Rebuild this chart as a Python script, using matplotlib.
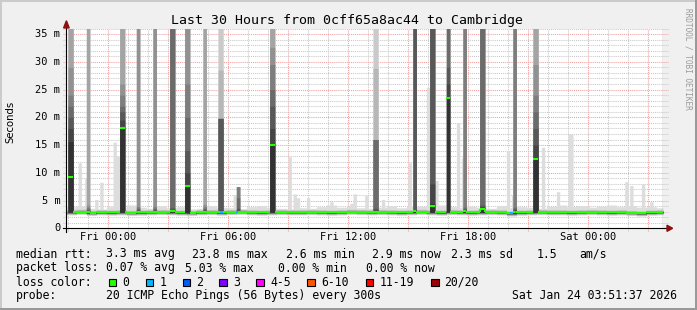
import numpy as np
import matplotlib
matplotlib.use("Agg")
import matplotlib.pyplot as plt
from matplotlib.collections import LineCollection
from matplotlib.patches import Rectangle, Polygon

W, H = 697, 310
MONO = "DejaVu Sans Mono"

title = "Last 30 Hours from 0cff65a8ac44 to Cambridge"

# hours relative to Fri 00:00, one sample every 5 minutes
t_first = -2.08
t_last = 27.75

x_ticks = [0, 6, 12, 18, 24]
x_labels = ["Fri 00:00", "Fri 06:00", "Fri 12:00", "Fri 18:00", "Sat 00:00"]
y_ticks = [0, 5, 10, 15, 20, 25, 30, 35]
y_labels = ["0", "5 m", "10 m", "15 m", "20 m", "25 m", "30 m", "35 m"]

# half-hourly median rtt (ms) and slowest ping (ms) on quiet periods
base_median = [2.9, 3.0, 2.8, 2.9, 2.85, 2.9, 2.8, 2.85, 2.9, 2.95,
               2.9, 2.85, 2.8, 2.9, 2.95, 2.85, 2.95, 3.0, 2.9, 2.85,
               2.9, 2.95, 2.9, 2.9, 2.95, 2.9, 2.85, 2.9, 3.0, 2.95,
               2.9, 2.95, 2.9, 2.85, 2.9, 3.0, 2.9, 2.85, 2.95, 2.9,
               2.85, 2.9, 2.95, 2.9, 2.7, 2.85, 2.9, 2.95, 2.9, 2.9,
               2.85, 2.9, 2.95, 2.9, 2.85, 2.9, 2.8, 2.7, 2.85, 2.9]
base_max = [3.9, 4.1, 3.6, 3.5, 3.9, 3.7, 4.2, 3.8, 3.6, 4.0,
            3.7, 3.9, 3.5, 3.6, 4.0, 3.8, 3.7, 3.5, 3.9, 4.1,
            3.8, 3.6, 3.5, 3.7, 3.6, 3.9, 4.2, 3.8, 4.0, 3.7,
            3.6, 3.8, 4.1, 3.7, 3.9, 4.0, 3.8, 4.2, 3.9, 3.7,
            4.0, 3.8, 3.6, 4.1, 3.7, 3.9, 3.8, 3.6, 4.0, 4.2,
            3.9, 4.1, 3.8, 4.0, 4.2, 3.9, 4.1, 3.8, 3.9, 3.7]
# spread of the 20 sorted pings around the median on quiet periods
lo_spread = [-0.5, -0.4, -0.32, -0.25, -0.19, -0.14, -0.1, -0.06, -0.03, 0.0]
hi_spread = [0.03, 0.06, 0.09, 0.12, 0.16, 0.2, 0.26, 0.34, 0.45]

# bursts of slow pings: start hour, samples, median, pings 11..20
bar_hours = [-2.0, -1.1, 0.55, 1.4, 2.25, 3.05, 3.85, 4.75, 5.5, 6.4,
             8.05, 13.25, 15.25, 16.05, 16.9, 17.75, 18.55, 20.25, 21.25]
bar_steps = [3, 2, 3, 2, 2, 3, 3, 2, 3, 2, 3, 3, 2, 3, 2, 2, 3, 2, 3]
bar_median = [9.3, 3.0, 18.0, 3.0, 3.0, 3.1, 7.7, 3.0, 3.0, 3.0,
              15.0, 3.0, 3.1, 4.0, 23.5, 3.1, 3.5, 3.0, 12.5]
bar_upper = [
    [15.6, 18, 20, 22, 24, 29, 40, 40, 40, 40],
    [3.1, 3.2, 3.3, 3.5, 3.8, 4.2, 40, 40, 40, 40],
    [18, 19.5, 21, 22, 24, 26, 40, 40, 40, 40],
    [3.1, 3.2, 3.4, 3.6, 3.9, 40, 40, 40, 40, 40],
    [3.1, 3.2, 3.4, 3.6, 3.9, 40, 40, 40, 40, 40],
    [3.2, 3.4, 3.7, 40, 40, 40, 40, 40, 40, 40],
    [7.7, 10, 14, 20, 26, 40, 40, 40, 40, 40],
    [3.1, 3.2, 3.4, 3.6, 3.9, 4.3, 40, 40, 40, 40],
    [3.1, 3.3, 19.8, 19.8, 19.8, 19.8, 19.8, 28.5, 40, 40],
    [3.1, 3.3, 3.6, 5.5, 7.5, 7.5, 7.5, 7.5, 7.5, 7.5],
    [15, 18, 22, 25, 29.5, 32.6, 40, 40, 40, 40],
    [3.1, 3.3, 3.6, 16, 16, 16, 16, 28.8, 40, 40],
    [3.2, 3.4, 40, 40, 40, 40, 40, 40, 40, 40],
    [4.5, 8, 40, 40, 40, 40, 40, 40, 40, 40],
    [23.5, 26, 29, 40, 40, 40, 40, 40, 40, 40],
    [3.1, 3.3, 3.5, 3.8, 40, 40, 40, 40, 40, 40],
    [3.6, 3.9, 4.2, 40, 40, 40, 40, 40, 40, 40],
    [3.1, 3.3, 3.5, 3.8, 40, 40, 40, 40, 40, 40],
    [12.5, 15, 18, 21, 24, 29.5, 40, 40, 40, 40],
]

# single slow pings (max of the 20), two samples each
light_hours = [-1.5, -1.2, -0.65, -0.45, 0.25, 0.4, 6.25, 9.0, 9.25, 9.4,
               9.9, 11.1, 12.05, 12.25, 12.85, 13.7, 15.0, 15.9, 16.3, 17.45,
               17.65, 19.95, 20.15, 21.65, 22.4, 23.0, 23.1, 23.95, 25.8, 26.05,
               26.65, 27.05]
light_tops = [11.8, 9.0, 5.2, 8.3, 15.5, 13.0, 6.0, 12.9, 6.2, 5.5,
              5.5, 4.8, 4.5, 6.2, 5.9, 5.2, 11.8, 25.4, 8.6, 19.0,
              12.7, 14.0, 6.0, 14.6, 6.6, 17.0, 17.0, 4.0, 8.4, 7.7,
              8.0, 4.8]

# samples with one lost ping
loss_hours = [5.55, 5.65, 6.45, 20.05, 20.15, 20.3]

legend_colors = ["#26ff00", "#00b8ff", "#0059ff", "#7e00ff",
                 "#ff00ff", "#ff5500", "#ff0000", "#a10000"]
legend_names = ["0", "1", "2", "3", "4-5", "6-10", "11-19", "20/20"]

n = int(round((t_last - t_first) * 12))
edges = t_first + np.arange(n + 1) / 12.0


def step_of(h):
    return int(round((h - t_first) * 12))


half = np.minimum(np.arange(n) // 6, len(base_median) - 1)
median = np.array(base_median)[half]
pings = np.zeros((n, 20))
pings[:, :10] = median[:, None] + np.array(lo_spread)
pings[:, 10:19] = median[:, None] + np.array(hi_spread)
pings[:, 19] = np.maximum(np.array(base_max)[half], pings[:, 18])

for h, top in zip(light_hours, light_tops):
    k = step_of(h)
    for j in (k, k + 1):
        if j < n:
            pings[j, 19] = max(pings[j, 19], top)

for h, cnt, med, up in zip(bar_hours, bar_steps, bar_median, bar_upper):
    k0 = step_of(h)
    for k in range(k0, min(k0 + cnt, n)):
        pings[k, 10:] = up
        median[k] = med

loss = np.zeros(n, dtype=bool)
for h in loss_hours:
    loss[step_of(h)] = True

fig = plt.figure(figsize=(W / 100, H / 100), dpi=100, facecolor="#f0f0f0")
y0_px, top_px = 228.3, 28.5
left_px, right_px = 66.4, 663.0
ax = fig.add_axes([left_px / W, (H - y0_px) / H,
                   (right_px - left_px) / W, (y0_px - top_px) / H])
ax.set_facecolor("white")
ax.set_xlim(t_first, t_last)
ax.set_ylim(0, 36)
for s in ax.spines.values():
    s.set_visible(False)
ax.set_xticks([])
ax.set_yticks([])

dot = (0, (1, 1))
# grid
for h in range(-2, 28):
    major = h % 3 == 0
    ax.plot([h, h], [-0.55, 36], color="#f2a0a0" if major else "#c8c8c8",
            lw=0.75, ls=dot, clip_on=False, zorder=1)
for v in range(1, 37):
    major = v % 5 == 0
    ax.plot([t_first - 0.15, t_last + 0.25], [v, v],
            color="#f2a0a0" if major else "#c8c8c8",
            lw=0.75, ls=dot, clip_on=False, zorder=1)

# smoke: layer i spans ping i .. ping 21-i
for i in range(10):
    g = int(190 / 10 * (9 - i)) + 50
    lo = np.append(pings[:, i], pings[-1, i])
    hi = np.append(pings[:, 19 - i], pings[-1, 19 - i])
    ax.fill_between(edges, lo, hi, step="post", color="#%02x%02x%02x" % (g, g, g),
                    lw=0, zorder=2)

# median line coloured by loss
segs, cols = [], []
for k in range(n):
    c = legend_colors[1] if loss[k] else legend_colors[0]
    segs.append([(edges[k], median[k]), (edges[k + 1], median[k])])
    cols.append(c)
    if k + 1 < n and abs(median[k + 1] - median[k]) < 1.0:
        segs.append([(edges[k + 1], median[k]), (edges[k + 1], median[k + 1])])
        cols.append(c)
ax.add_collection(LineCollection(segs, colors=cols, linewidths=1.5,
                                 capstyle="butt", zorder=3))

ax.plot([t_last - 0.02] * 2, [0, 36], color="#a0a0a0", lw=1, zorder=4)

# axes and arrows
ax.plot([t_first - 0.17, t_last + 0.3], [0, 0], color="black", lw=0.8,
        clip_on=False, zorder=5)
ax.plot([t_first, t_first], [-0.6, 36.3], color="black", lw=0.8,
        clip_on=False, zorder=5)
ax.add_patch(Polygon([[t_last + 0.2, -0.55], [t_last + 0.2, 0.55], [t_last + 0.48, 0]],
                     closed=True, color="#8b1111", clip_on=False, zorder=6))
ax.add_patch(Polygon([[t_first - 0.14, 36.1], [t_first + 0.14, 36.1], [t_first, 37.4]],
                     closed=True, color="#8b1111", clip_on=False, zorder=6))

for v, lab in zip(y_ticks, y_labels):
    ax.text(t_first - 0.3, v, lab, ha="right", va="center", fontsize=7.5,
            family=MONO, color="black")
for h, lab in zip(x_ticks, x_labels):
    ax.text(h, -1.6, lab, ha="center", va="center", fontsize=7.5,
            family=MONO, color="black")


def fx(x):
    return x / W


def fy(y):
    return 1 - y / H


fig.text(fx(347), fy(24), title, ha="center", va="baseline", fontsize=9.5, family=MONO)
fig.text(fx(10), fy(122), "Seconds", rotation=90, ha="center", va="center",
         fontsize=7.3, family="DejaVu Sans")
fig.text(fx(688), fy(59), "RRDTOOL / TOBI OETIKER", rotation=270, ha="center",
         va="center", fontsize=5.6, family=MONO, color="#9a9a9a")

legend_rows = [
    (257.5, [(15.5, "median rtt:"), (106.5, "3.3 ms avg"), (192.5, "23.8 ms max"),
             (286.5, "2.6 ms min"), (371.5, "2.9 ms now"), (451, "2.3 ms sd"),
             (536.5, "1.5"), (579.5, "am/s")]),
    (271.5, [(15.5, "packet loss:"), (106.5, "0.07 % avg"), (185.5, "5.03 % max"),
             (278.5, "0.00 % min"), (365.5, "0.00 % now")]),
    (285.5, [(15.5, "loss color:")]),
    (299.0, [(15.5, "probe:"), (106.5, "20 ICMP Echo Pings (56 Bytes) every 300s"),
             (512.5, "Sat Jan 24 03:51:37 2026")]),
]
for yb, items in legend_rows:
    for x, s in items:
        fig.text(fx(x), fy(yb), s, ha="left", va="baseline", fontsize=8.3, family=MONO)

box_x = [108.5, 145.5, 182.5, 219.0, 256.0, 307.0, 365.5, 431.0]
lab_x = [122.5, 160.0, 196.0, 233.5, 270.0, 321.0, 379.5, 444.5]
for bx, lx, c, name in zip(box_x, lab_x, legend_colors, legend_names):
    fig.add_artist(Rectangle((bx, H - 286.0), 7.5, 7.5, transform=None,
                             facecolor=c, edgecolor="black", lw=0.8))
    fig.text(fx(lx), fy(285.5), name, ha="left", va="baseline", fontsize=8.3, family=MONO)

# 3d frame
fig.add_artist(Rectangle((0, 0), 2, H, transform=None, color="#cbcbcb", lw=0))
fig.add_artist(Rectangle((0, H - 2), W, 2, transform=None, color="#cbcbcb", lw=0))
fig.add_artist(Rectangle((W - 2, 0), 2, H, transform=None, color="#999999", lw=0))
fig.add_artist(Rectangle((0, 0), W, 2, transform=None, color="#999999", lw=0))

fig.savefig("out.png", dpi=100, facecolor=fig.get_facecolor())
